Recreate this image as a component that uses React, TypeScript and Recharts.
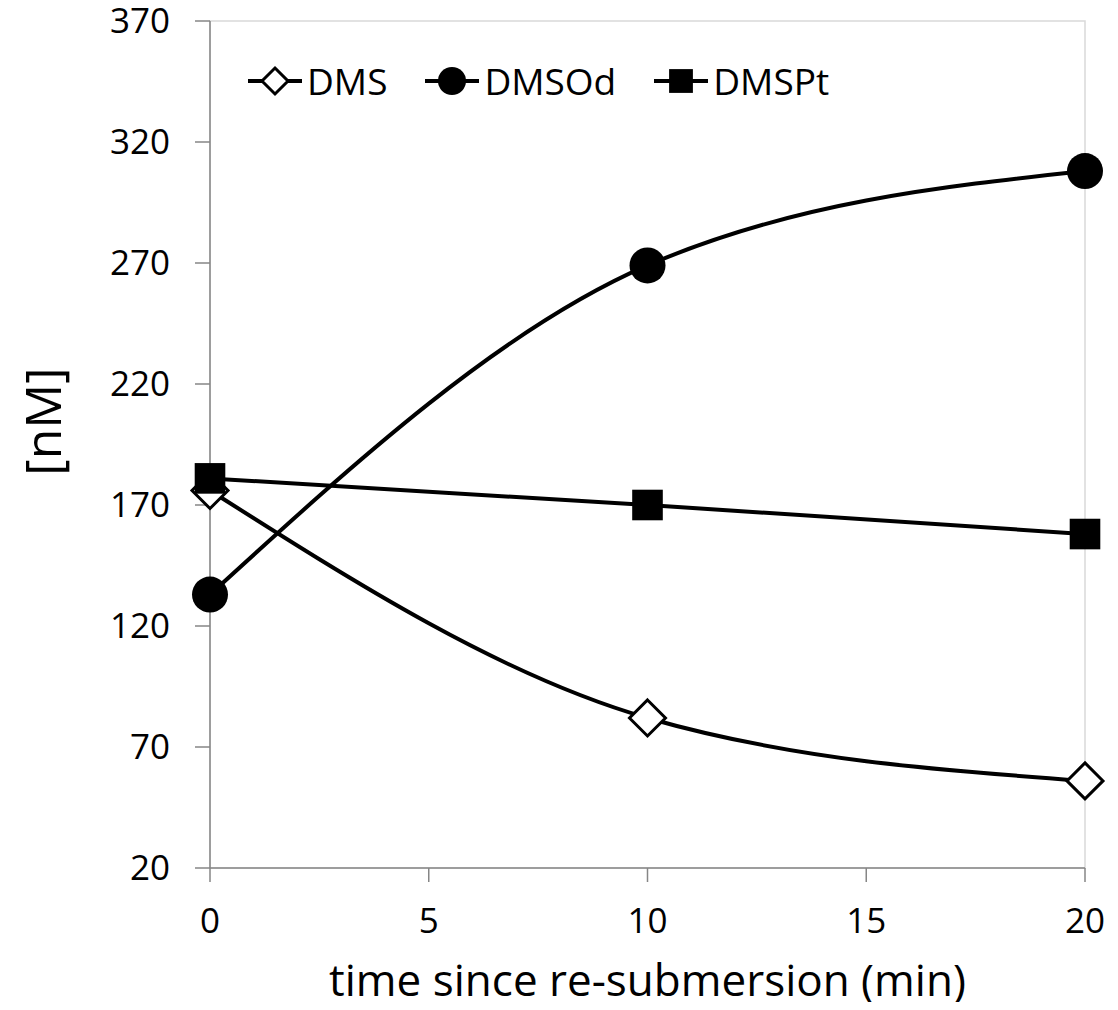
import React from "react"
import {
    LineChart,
    Line,
    XAxis,
    YAxis,
    Legend,
    ReferenceArea,
} from "recharts"

// 时间点 (min)
const times = [0, 10, 20]
// 各系列浓度 (nM)
const dmsValues = [176, 82, 56]
const dmsodValues = [133, 269, 308]
const dmsptValues = [181, 170, 158]

const xTicks = [0, 5, 10, 15, 20]
const yTicks = [20, 70, 120, 170, 220, 270, 320, 370]

const xTitle = "time since re-submersion (min)"
const yTitle = "[nM]"

type MarkerShape = "diamond" | "circle" | "square"

interface SeriesDef {
    key: string
    name: string
    shape: MarkerShape
}

const series: SeriesDef[] = [
    { key: "dms", name: "DMS", shape: "diamond" },
    { key: "dmsod", name: "DMSOd", shape: "circle" },
    { key: "dmspt", name: "DMSPt", shape: "square" },
]

const data = times.map((t, i) => ({
    time: t,
    dms: dmsValues[i],
    dmsod: dmsodValues[i],
    dmspt: dmsptValues[i],
}))

const FONT = "'Open Sans', sans-serif"
const INK = "#000000"

// 画标记
function drawMarker(shape: MarkerShape, cx: number, cy: number, size: number, key?: string) {
    if (shape === "diamond") {
        const r = size
        return (
            <path
                key={key}
                d={`M${cx},${cy - r} L${cx + r},${cy} L${cx},${cy + r} L${cx - r},${cy} Z`}
                fill="#ffffff"
                stroke={INK}
                strokeWidth={3}
            />
        )
    }
    if (shape === "circle") {
        return <circle key={key} cx={cx} cy={cy} r={size} fill={INK} />
    }
    const half = size * 0.85
    return <rect key={key} x={cx - half} y={cy - half} width={half * 2} height={half * 2} fill={INK} />
}

function CustomLegend() {
    return (
        <div style={{ display: "flex", alignItems: "center", height: 46, fontFamily: FONT, fontSize: 37 }}>
            {series.map((s) => (
                <div key={s.key} style={{ display: "flex", alignItems: "center", marginRight: 38 }}>
                    <svg width={54} height={46}>
                        <line x1={0} y1={23} x2={54} y2={23} stroke={INK} strokeWidth={4} />
                        {drawMarker(s.shape, 27, 23, s.shape === "diamond" ? 13 : 14)}
                    </svg>
                    <span style={{ marginLeft: 5, color: INK, lineHeight: "46px" }}>{s.name}</span>
                </div>
            ))}
        </div>
    )
}

export default function App() {
    return (
        <div style={{ width: 1118, height: 1010, margin: -8, background: "#ffffff" }}>
            <LineChart
                width={1118}
                height={1010}
                data={data}
                margin={{ top: 21, right: 33, left: 8, bottom: 0 }}
            >
                <ReferenceArea
                    x1={0}
                    x2={20}
                    y1={20}
                    y2={370}
                    fill="none"
                    stroke="#d9d9d9"
                    strokeWidth={1.5}
                    ifOverflow="visible"
                />
                <XAxis
                    dataKey="time"
                    type="number"
                    domain={[0, 20]}
                    ticks={xTicks}
                    height={142}
                    stroke="#868686"
                    strokeWidth={1.5}
                    tickSize={14}
                    tickMargin={26}
                    tick={{ fontSize: 35, fill: INK, fontFamily: FONT }}
                    label={{
                        content: (props: any) => {
                            const vb = props.viewBox
                            return (
                                <text
                                    x={vb.x + vb.width / 2}
                                    y={vb.y + 128}
                                    textAnchor="middle"
                                    fontSize={44}
                                    fontFamily={FONT}
                                    fill={INK}
                                >
                                    {xTitle}
                                </text>
                            )
                        },
                    }}
                />
                <YAxis
                    type="number"
                    domain={[20, 370]}
                    ticks={yTicks}
                    width={202}
                    stroke="#868686"
                    strokeWidth={1.5}
                    tickSize={15}
                    tickMargin={25}
                    tick={{ fontSize: 35, fill: INK, fontFamily: FONT }}
                    label={{
                        content: (props: any) => {
                            const vb = props.viewBox
                            const cx = vb.x + 34
                            const cy = vb.y + vb.height / 2 - 23
                            return (
                                <text
                                    x={cx}
                                    y={cy}
                                    transform={`rotate(-90 ${cx} ${cy})`}
                                    textAnchor="middle"
                                    dominantBaseline="central"
                                    fontSize={50}
                                    fontFamily={FONT}
                                    fill={INK}
                                >
                                    {yTitle}
                                </text>
                            )
                        },
                    }}
                />
                <Legend
                    layout="horizontal"
                    verticalAlign="middle"
                    align="center"
                    wrapperStyle={{ top: 58, left: 248, width: "auto" }}
                    content={() => <CustomLegend />}
                />
                {series.map((s) => (
                    <Line
                        key={s.key}
                        type="monotone"
                        dataKey={s.key}
                        name={s.name}
                        stroke={INK}
                        strokeWidth={4}
                        isAnimationActive={false}
                        dot={(props: any) =>
                            drawMarker(s.shape, props.cx, props.cy, 18, `${s.key}-${props.index}`)
                        }
                        activeDot={false}
                    />
                ))}
            </LineChart>
        </div>
    )
}
